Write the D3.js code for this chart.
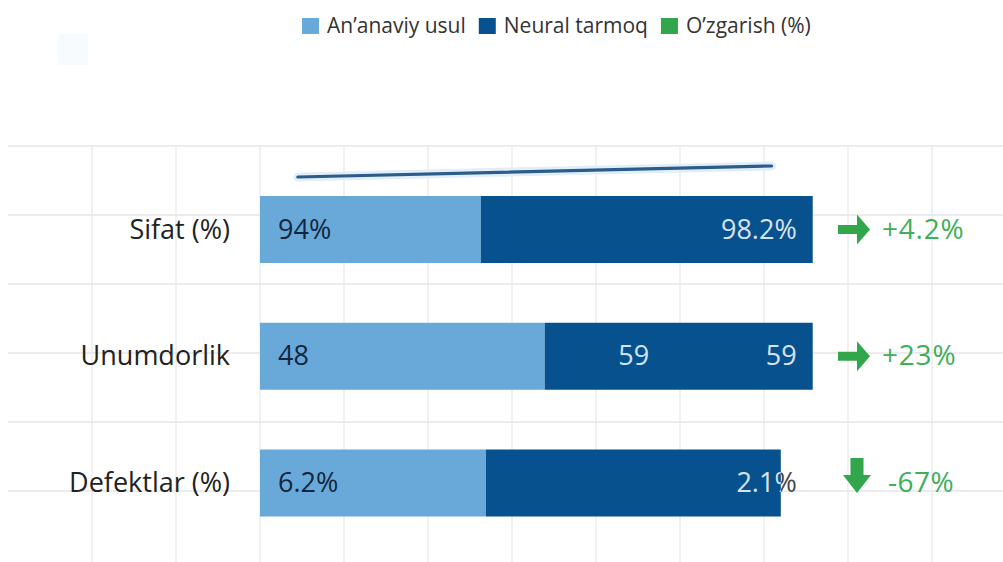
<!DOCTYPE html>
<html>
<head>
<meta charset="utf-8">
<script src="https://cdn.jsdelivr.net/npm/d3@7"></script>
<style>
  html, body { margin: 0; padding: 0; background: #ffffff; }
  svg { display: block; font-family: "Open Sans", sans-serif; }
</style>
</head>
<body>
<svg id="chart" width="1003" height="562"></svg>
<script>
// ---------- data ----------
const categories = ["Sifat (%)", "Unumdorlik", "Defektlar (%)"];
// bar extents on the chart's horizontal scale
const traditionalEnd = [26.3, 33.9, 26.9];
const neuralEnd = [65.8, 65.8, 62.0];
// printed labels
const traditionalLabels = ["94%", "48", "6.2%"];
const neuralLabels = ["98.2%", "59", "2.1%"];
const extraNeuralLabels = [null, "59", null];
const changeLabels = ["+4.2%", "+23%", "-67%"];
const changeDirection = ["right", "right", "down"];
const seriesNames = ["An\u2019anaviy usul", "Neural tarmoq", "O\u2019zgarish (%)"];
// trend line over Sifat (traditional -> neural)
const trendX = [4.5, 60.9];
const trendValues = [94, 98.2];
const gridTicksX = d3.range(-20, 81, 10);
const gridRowsY = d3.range(0, 6);

// ---------- styles ----------
const colors = { light: "#68a9da", dark: "#07518f", green: "#31a64a", greenText: "#3fae5a" };

const svg = d3.select("#chart");
const x = d3.scaleLinear().domain([-20, 80]).range([92, 932]);
const yCenter = d3.scalePoint().domain(categories).range([229.5, 483]);
const yGrid = d3.scaleLinear().domain([0, 5]).range([146, 491]);
const yTrend = d3.scaleLinear().domain([94, 98.2]).range([177, 166]);
const barH = 67;

// faint square top-left
svg.append("rect").attr("x", 58).attr("y", 34).attr("width", 30).attr("height", 31).attr("fill", "#f8fbfd");

// grid
svg.append("g").selectAll("line").data(gridRowsY).join("line")
  .attr("x1", 8).attr("x2", 1003)
  .attr("y1", d => yGrid(d)).attr("y2", d => yGrid(d))
  .attr("stroke", "#e6e6e6").attr("stroke-width", 1.5);
svg.append("g").selectAll("line").data(gridTicksX).join("line")
  .attr("x1", d => x(d)).attr("x2", d => x(d))
  .attr("y1", 146).attr("y2", 562)
  .attr("stroke", "#e8e8e8").attr("stroke-width", 1.2);

// legend
const legendColors = [colors.light, colors.dark, colors.green];
const lg = svg.append("g");
let lx = 302;
seriesNames.forEach((name, i) => {
  lg.append("rect").attr("x", lx).attr("y", 18).attr("width", 17).attr("height", 16).attr("fill", legendColors[i]);
  const t = lg.append("text").attr("x", lx + 25).attr("y", 33)
    .attr("font-size", 21).attr("fill", "#333").text(name);
  lx += 25 + t.node().getComputedTextLength() + 13;
});

// trend line
const line = d3.line().x((d, i) => x(trendX[i])).y(d => yTrend(d));
svg.append("path").datum(trendValues).attr("d", line)
  .attr("fill", "none").attr("stroke", "#e2eff9").attr("stroke-width", 9).attr("stroke-linecap", "round");
svg.append("path").datum(trendValues).attr("d", line)
  .attr("fill", "none").attr("stroke", "#2b5c8c").attr("stroke-width", 3.2).attr("stroke-linecap", "round");

// bars
const defs = svg.append("defs");
const rows = svg.append("g").selectAll("g").data(categories).join("g");
rows.append("rect")
  .attr("x", d => x(0)).attr("y", d => yCenter(d) - barH / 2)
  .attr("width", (d, i) => x(traditionalEnd[i]) - x(0)).attr("height", barH)
  .attr("fill", colors.light);
rows.append("rect")
  .attr("x", (d, i) => x(traditionalEnd[i])).attr("y", d => yCenter(d) - barH / 2)
  .attr("width", (d, i) => x(neuralEnd[i]) - x(traditionalEnd[i])).attr("height", barH)
  .attr("fill", colors.dark);
categories.forEach((c, i) => {
  defs.append("clipPath").attr("id", "clip" + i).append("rect")
    .attr("x", x(traditionalEnd[i])).attr("y", yCenter(c) - barH / 2)
    .attr("width", x(neuralEnd[i]) - x(traditionalEnd[i])).attr("height", barH);
});

// category labels
rows.append("text")
  .attr("x", 230).attr("y", d => yCenter(d) + 9)
  .attr("text-anchor", "end").attr("font-size", 27).attr("fill", "#222")
  .text(d => d);

// value labels
rows.append("text")
  .attr("x", x(0) + 18).attr("y", d => yCenter(d) + 9)
  .attr("font-size", 27).attr("fill", "#13263d")
  .text((d, i) => traditionalLabels[i]);
// neural label: dark copy outside the bar, light copy clipped inside
rows.append("text")
  .attr("x", x(65.8) - 16).attr("y", d => yCenter(d) + 9)
  .attr("text-anchor", "end").attr("font-size", 27).attr("fill", "#444")
  .text((d, i) => neuralLabels[i]);
rows.append("text")
  .attr("clip-path", (d, i) => `url(#clip${i})`)
  .attr("x", x(65.8) - 16).attr("y", d => yCenter(d) + 9)
  .attr("text-anchor", "end").attr("font-size", 27).attr("fill", "#cfe5fa")
  .text((d, i) => neuralLabels[i]);
rows.filter((d, i) => extraNeuralLabels[i]).append("text")
  .attr("x", x(44.5)).attr("y", d => yCenter(d) + 9)
  .attr("text-anchor", "middle").attr("font-size", 27).attr("fill", "#cfe5fa")
  .text((d) => extraNeuralLabels[categories.indexOf(d)]);

// change arrows + labels
rows.each(function (d, i) {
  const g = d3.select(this);
  const cy = yCenter(d);
  if (changeDirection[i] === "right") {
    const ax = 838;
    g.append("path")
      .attr("d", `M${ax},${cy - 4.5} H${ax + 19} V${cy - 15} L${ax + 32},${cy} L${ax + 19},${cy + 15} V${cy + 4.5} H${ax} Z`)
      .attr("fill", colors.green);
    g.append("text").attr("x", 882).attr("y", cy + 9).attr("font-size", 28).attr("letter-spacing", 0.8)
      .attr("fill", colors.greenText).text(changeLabels[i]);
  } else {
    const ax = 857, top = cy - 25;
    g.append("path")
      .attr("d", `M${ax - 6.5},${top} H${ax + 6.5} V${top + 17} H${ax + 14} L${ax},${top + 35} L${ax - 14},${top + 17} H${ax - 6.5} Z`)
      .attr("fill", colors.green);
    g.append("text").attr("x", 888).attr("y", cy + 9).attr("font-size", 28).attr("letter-spacing", 0.5)
      .attr("fill", colors.greenText).text(changeLabels[i]);
  }
});
</script>
</body>
</html>
